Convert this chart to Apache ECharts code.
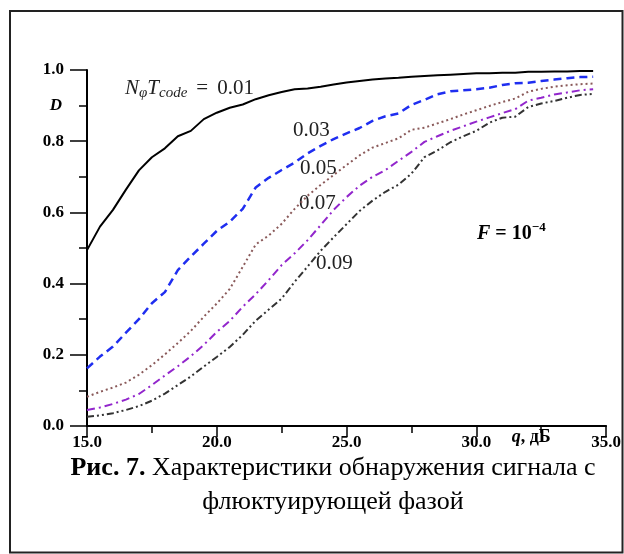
<!DOCTYPE html>
<html>
<head>
<meta charset="utf-8">
<script src="https://cdn.jsdelivr.net/npm/echarts@6/dist/echarts.min.js"></script>
<style>
html,body{margin:0;padding:0;background:#fff;}
#chart{width:624px;height:554px;}
</style>
</head>
<body>
<div id="chart"></div>
<script>
// ---- data ----
const q = [15.0,15.5,16.0,16.5,17.0,17.5,18.0,18.5,19.0,19.5,20.0,20.5,21.0,21.5,22.0,22.5,23.0,23.5,24.0,24.5,25.0,25.5,26.0,26.5,27.0,27.5,28.0,28.5,29.0,29.5,30.0,30.5,31.0,31.5,32.0,32.5,33.0,33.5,34.0,34.5];
const d001 = [0.494,0.560,0.607,0.664,0.718,0.755,0.780,0.814,0.829,0.862,0.880,0.894,0.903,0.918,0.929,0.938,0.946,0.948,0.953,0.959,0.965,0.969,0.973,0.976,0.978,0.981,0.983,0.985,0.987,0.989,0.991,0.991,0.992,0.992,0.995,0.995,0.996,0.996,0.997,0.997];
const d003 = [0.162,0.195,0.223,0.262,0.300,0.345,0.376,0.438,0.476,0.512,0.548,0.574,0.610,0.670,0.697,0.719,0.740,0.766,0.787,0.806,0.822,0.837,0.857,0.870,0.878,0.902,0.916,0.932,0.940,0.943,0.946,0.950,0.958,0.963,0.964,0.969,0.973,0.977,0.980,0.981];
const d005 = [0.082,0.096,0.108,0.122,0.144,0.171,0.201,0.233,0.267,0.307,0.344,0.385,0.447,0.510,0.535,0.568,0.610,0.647,0.677,0.705,0.733,0.760,0.782,0.795,0.808,0.832,0.838,0.850,0.862,0.875,0.887,0.899,0.910,0.920,0.939,0.947,0.953,0.957,0.960,0.962];
const d007 = [0.045,0.052,0.062,0.074,0.090,0.115,0.142,0.168,0.196,0.228,0.264,0.295,0.335,0.370,0.410,0.452,0.485,0.522,0.564,0.607,0.643,0.675,0.700,0.719,0.745,0.770,0.798,0.814,0.829,0.842,0.855,0.867,0.879,0.890,0.914,0.922,0.931,0.937,0.943,0.946];
const d009 = [0.026,0.030,0.036,0.045,0.056,0.071,0.091,0.115,0.139,0.167,0.194,0.222,0.256,0.296,0.327,0.358,0.405,0.448,0.492,0.530,0.567,0.604,0.633,0.658,0.678,0.709,0.755,0.774,0.797,0.814,0.829,0.852,0.866,0.869,0.896,0.906,0.913,0.922,0.930,0.933];
const seriesNames = ['0.01','0.03','0.05','0.07','0.09'];
const xTickLabels = ['15.0','20.0','25.0','30.0','35.0'];
const yTickLabels = ['0.0','0.2','0.4','0.6','0.8','1.0'];
const xAxisTitle = 'q';
const xAxisUnit = ', дБ';
const yAxisTitle = 'D';
const caption1Bold = 'Рис. 7.';
const caption1 = ' Характеристики обнаружения сигнала с';
const caption2 = 'флюктуирующей фазой';

// ---- styles ----
const SERIF = "'Liberation Serif','Times New Roman',serif";
const styles = [
  {color:'#000000', type:'solid', width:2},
  {color:'#1f2ef0', type:[8,5], width:2.5},
  {color:'#8a5a5a', type:[2,3], width:2},
  {color:'#9226cc', type:[8,4,2,4], width:2},
  {color:'#333333', type:[7,3,2,3,2,3], width:2}
];
const allData = [d001,d003,d005,d007,d009];

const chart = echarts.init(document.getElementById('chart'), null, {renderer:'canvas'});
const tickLabelStyle = {fontFamily:SERIF, fontWeight:'bold', fontSize:17, color:'#000'};
const lblStyle = {fontFamily:SERIF, fontSize:21, fill:'#222', verticalAlign:'middle'};

const option = {
  animation:false,
  backgroundColor:'#fff',
  grid:{left:87, right:17, top:70, bottom:128, containLabel:false},
  xAxis:[{
    type:'value', min:15, max:35, interval:5,
    axisLine:{show:true, onZero:false, lineStyle:{color:'#000', width:2}},
    axisTick:{show:true, length:11, lineStyle:{color:'#000', width:1.5}},
    minorTick:{show:true, splitNumber:2, length:7, lineStyle:{color:'#000', width:1.5}},
    splitLine:{show:false},
    axisLabel:Object.assign({margin:8, showMaxLabel:true, showMinLabel:true,
      formatter:(v)=>{const i=Math.round((v-15)/5); return xTickLabels[i]||'';}}, tickLabelStyle)
  },{
    type:'value', min:15, max:35, interval:2.5, position:'bottom',
    axisLine:{show:false}, axisTick:{show:false}, splitLine:{show:false},
    axisLabel:{margin:2, padding:[0,20,0,0], formatter:(v)=> Math.abs(v-32.5)<1e-6 ? '{qi|'+xAxisTitle+'}{u|'+xAxisUnit+'}' : '',
      rich:{qi:{fontFamily:SERIF, fontStyle:'italic', fontWeight:'bold', fontSize:18, color:'#000'},
            u:{fontFamily:SERIF, fontWeight:'bold', fontSize:18, color:'#000'}}}
  }],
  yAxis:[{
    type:'value', min:0, max:1, interval:0.2,
    axisLine:{show:true, lineStyle:{color:'#000', width:2}},
    axisTick:{show:true, length:17, lineStyle:{color:'#000', width:1.5}},
    minorTick:{show:true, splitNumber:2, length:8, lineStyle:{color:'#000', width:1.5}},
    splitLine:{show:false},
    axisLabel:Object.assign({margin:23, showMaxLabel:true,
      formatter:(v)=>{const i=Math.round(v/0.2); return yTickLabels[i]||'';}}, tickLabelStyle)
  },{
    type:'value', min:0, max:1, interval:0.1, position:'left', offset:0,
    axisLine:{show:false}, axisTick:{show:false}, splitLine:{show:false},
    axisLabel:{margin:25, formatter:(v)=> Math.abs(v-0.9)<1e-6 ? yAxisTitle : '',
      fontFamily:SERIF, fontStyle:'italic', fontWeight:'bold', fontSize:17, color:'#000'}
  }],
  series: allData.map((arr,i)=>({
    name:seriesNames[i], type:'line', xAxisIndex:0, yAxisIndex:0,
    showSymbol:false, symbol:'none', smooth:false,
    lineStyle:styles[i],
    data:q.map((x,j)=>[x,arr[j]])
  })),
  graphic:[
    {type:'rect', shape:{x:10, y:11, width:612.5, height:541.5}, style:{fill:'none', stroke:'#222', lineWidth:2}, z:-1},
    {type:'text', x:125, y:88, style:{
      text:'{it|N}{sub|φ}{it|T}{sub|code}{eq|=}{n|0.01}', verticalAlign:'middle',
      rich:{
        it:{fontFamily:SERIF, fontStyle:'italic', fontSize:21, fill:'#222'},
        sub:{fontFamily:SERIF, fontStyle:'italic', fontSize:15, fill:'#222', padding:[11,0,0,0]},
        eq:{fontFamily:SERIF, fontSize:21, fill:'#222', padding:[0,9,0,9]},
        n:{fontFamily:SERIF, fontSize:21, fill:'#222'}
      }}},
    {type:'text', x:293, y:130, style:Object.assign({text:'0.03'}, lblStyle)},
    {type:'text', x:300, y:168, style:Object.assign({text:'0.05'}, lblStyle)},
    {type:'text', x:299, y:203, style:Object.assign({text:'0.07'}, lblStyle)},
    {type:'text', x:316, y:263, style:Object.assign({text:'0.09'}, lblStyle)},
    {type:'text', x:477, y:234, style:{
      text:'{f|F}{b| = 10}{s|−4}', verticalAlign:'middle',
      rich:{
        f:{fontFamily:SERIF, fontStyle:'italic', fontWeight:'bold', fontSize:20, fill:'#000'},
        b:{fontFamily:SERIF, fontWeight:'bold', fontSize:20, fill:'#000'},
        s:{fontFamily:SERIF, fontWeight:'bold', fontSize:13, fill:'#000', padding:[0,0,12,0]}
      }}},
    {type:'text', x:333, y:468, style:{
      text:'{b|'+caption1Bold+'}{r|'+caption1+'}', align:'center', verticalAlign:'middle',
      rich:{b:{fontFamily:SERIF, fontWeight:'bold', fontSize:26, fill:'#000'},
            r:{fontFamily:SERIF, fontSize:26, fill:'#000'}}}},
    {type:'text', x:333, y:502, style:{
      text:caption2, align:'center', verticalAlign:'middle',
      fontFamily:SERIF, fontSize:26, fill:'#000'}}
  ]
};
chart.setOption(option);
</script>
</body>
</html>
